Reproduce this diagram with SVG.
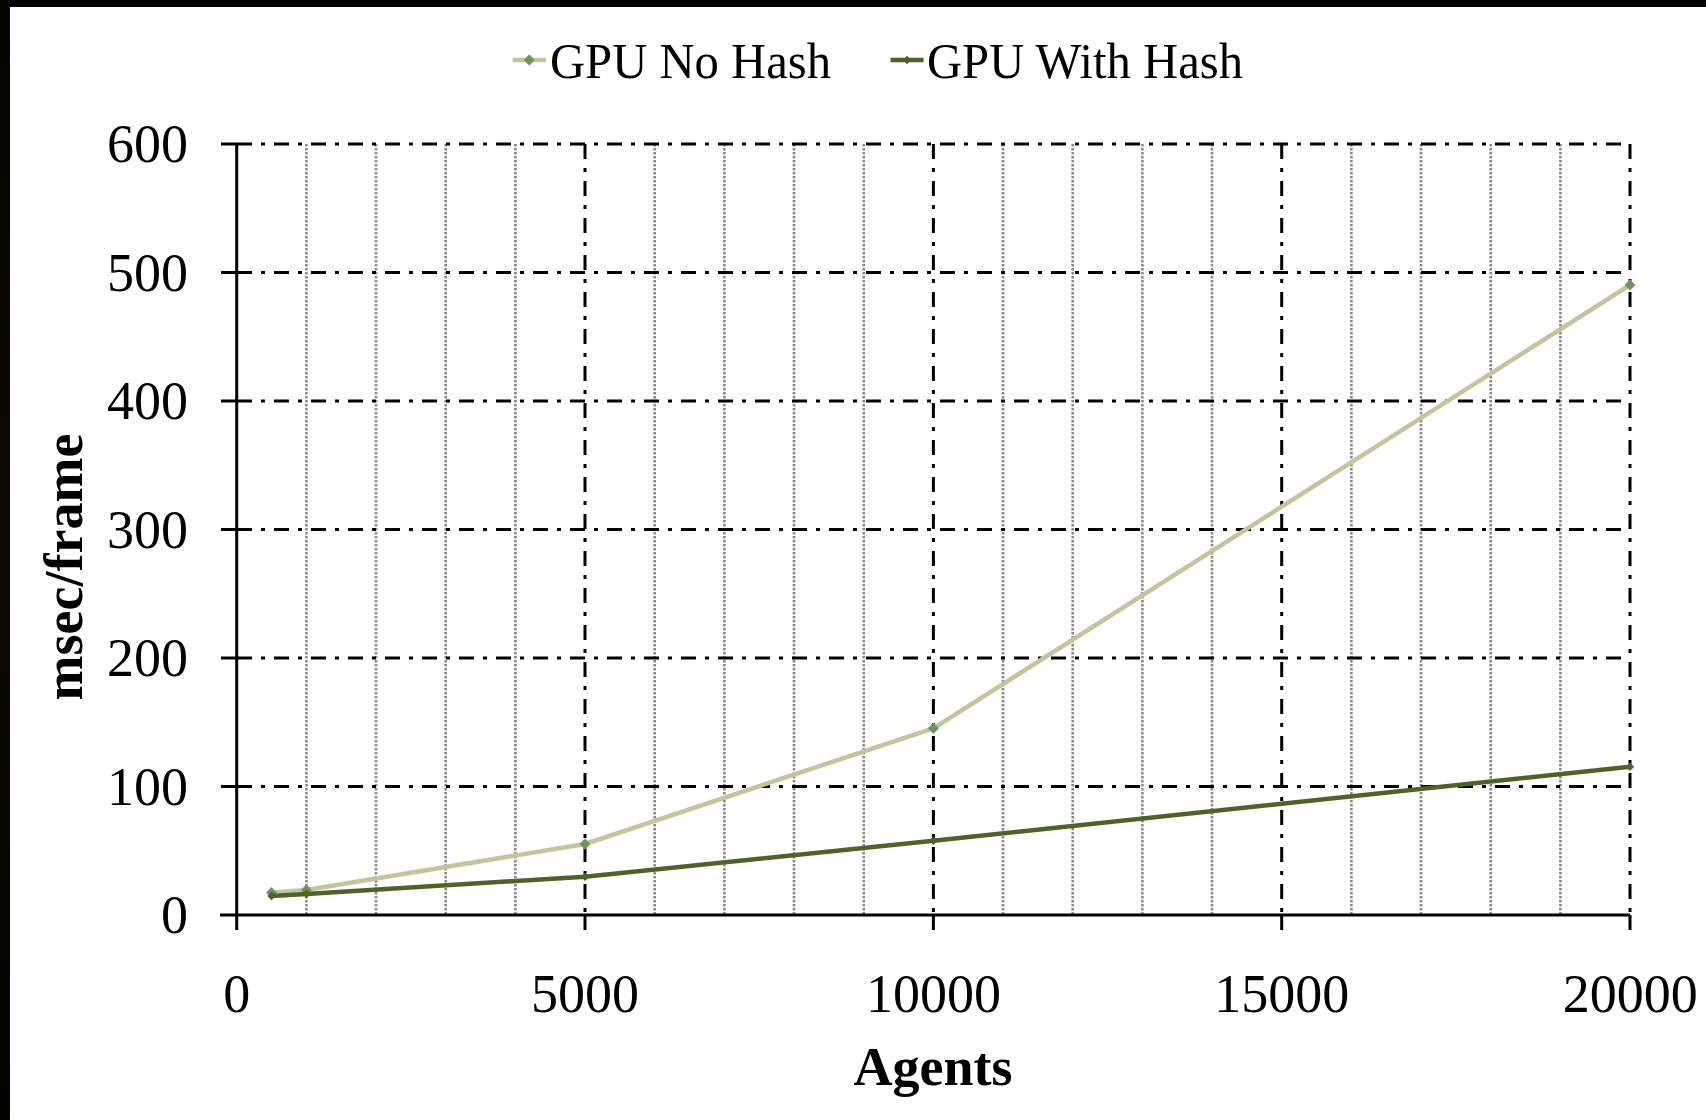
<svg xmlns="http://www.w3.org/2000/svg" width="1706" height="1120" viewBox="0 0 1706 1120">
<style>
  text { font-family: "Liberation Serif", "Times New Roman", serif; fill: #000; }
  .tick { font-size: 54px; }
  .ylab { text-anchor: end; }
  .xlab { text-anchor: middle; }
  .title { font-size: 54px; font-weight: bold; }
  .legend { font-size: 50px; }
  .minor { stroke: #8a8a8a; stroke-width: 2.6; stroke-dasharray: 2.6 1.4; fill: none; }
  .major { stroke: #000; stroke-width: 3; stroke-dasharray: 15 9 4 9; fill: none; }
  .axis { stroke: #000; stroke-width: 3; fill: none; }
  .nohash { stroke: #C4C49E; stroke-width: 4.5; fill: none; stroke-linejoin: round; }
  .withhash { stroke: #4F6228; stroke-width: 4.5; fill: none; stroke-linejoin: round; }
</style>
<defs>
  <marker id="mNo" viewBox="-6 -6 12 12" markerWidth="12" markerHeight="12" markerUnits="userSpaceOnUse" refX="0" refY="0">
    <path d="M0,-5.2 L5.2,0 L0,5.2 L-5.2,0 Z" fill="#77933C" stroke="#6FA0D0" stroke-width="1"/>
  </marker>
  <marker id="mWith" viewBox="-6 -6 12 12" markerWidth="12" markerHeight="12" markerUnits="userSpaceOnUse" refX="0" refY="0">
    <path d="M0,-4.2 L4.2,0 L0,4.2 L-4.2,0 Z" fill="#4F6228"/>
  </marker>
  <linearGradient id="leftband" x1="0" y1="0" x2="0" y2="1">
    <stop offset="0" stop-color="#050400"/>
    <stop offset="0.5" stop-color="#0d0b00"/>
    <stop offset="1" stop-color="#030300"/>
  </linearGradient>
</defs>

<rect x="0" y="0" width="1706" height="1120" fill="#ffffff"/>
<rect x="0" y="0" width="1706" height="7" fill="#000"/>
<rect x="0" y="0" width="10" height="1120" fill="url(#leftband)"/>

<g id="grid-minor">
  <line class="minor" x1="306.4" y1="144" x2="306.4" y2="915"/>
  <line class="minor" x1="376.0" y1="144" x2="376.0" y2="915"/>
  <line class="minor" x1="445.7" y1="144" x2="445.7" y2="915"/>
  <line class="minor" x1="515.4" y1="144" x2="515.4" y2="915"/>
  <line class="minor" x1="654.7" y1="144" x2="654.7" y2="915"/>
  <line class="minor" x1="724.4" y1="144" x2="724.4" y2="915"/>
  <line class="minor" x1="794.0" y1="144" x2="794.0" y2="915"/>
  <line class="minor" x1="863.7" y1="144" x2="863.7" y2="915"/>
  <line class="minor" x1="1003.0" y1="144" x2="1003.0" y2="915"/>
  <line class="minor" x1="1072.7" y1="144" x2="1072.7" y2="915"/>
  <line class="minor" x1="1142.4" y1="144" x2="1142.4" y2="915"/>
  <line class="minor" x1="1212.0" y1="144" x2="1212.0" y2="915"/>
  <line class="minor" x1="1351.4" y1="144" x2="1351.4" y2="915"/>
  <line class="minor" x1="1421.0" y1="144" x2="1421.0" y2="915"/>
  <line class="minor" x1="1490.7" y1="144" x2="1490.7" y2="915"/>
  <line class="minor" x1="1560.4" y1="144" x2="1560.4" y2="915"/>
</g>

<g id="grid-major">
  <line class="major" x1="237" y1="144" x2="1630" y2="144"/>
  <line class="major" x1="237" y1="272.5" x2="1630" y2="272.5"/>
  <line class="major" x1="237" y1="401" x2="1630" y2="401"/>
  <line class="major" x1="237" y1="529.5" x2="1630" y2="529.5"/>
  <line class="major" x1="237" y1="658" x2="1630" y2="658"/>
  <line class="major" x1="237" y1="786.5" x2="1630" y2="786.5"/>
  <line class="major" x1="585" y1="144" x2="585" y2="915"/>
  <line class="major" x1="933.4" y1="144" x2="933.4" y2="915"/>
  <line class="major" x1="1281.7" y1="144" x2="1281.7" y2="915"/>
  <line class="major" x1="1630" y1="144" x2="1630" y2="915"/>
</g>

<g id="axes">
  <line class="axis" x1="236.7" y1="144" x2="236.7" y2="930"/>
  <line class="axis" x1="220" y1="915" x2="1630" y2="915"/>
  <line class="axis" x1="221" y1="144" x2="237" y2="144"/>
  <line class="axis" x1="221" y1="272.5" x2="237" y2="272.5"/>
  <line class="axis" x1="221" y1="401" x2="237" y2="401"/>
  <line class="axis" x1="221" y1="529.5" x2="237" y2="529.5"/>
  <line class="axis" x1="221" y1="658" x2="237" y2="658"/>
  <line class="axis" x1="221" y1="786.5" x2="237" y2="786.5"/>
  <line class="axis" x1="585" y1="915" x2="585" y2="930"/>
  <line class="axis" x1="933.4" y1="915" x2="933.4" y2="930"/>
  <line class="axis" x1="1281.7" y1="915" x2="1281.7" y2="930"/>
  <line class="axis" x1="1630" y1="915" x2="1630" y2="930"/>
</g>

<g id="y-labels" class="tick">
  <text class="tick ylab" x="188" y="162">600</text>
  <text class="tick ylab" x="188" y="290.5">500</text>
  <text class="tick ylab" x="188" y="419">400</text>
  <text class="tick ylab" x="188" y="547.5">300</text>
  <text class="tick ylab" x="188" y="676">200</text>
  <text class="tick ylab" x="188" y="804.5">100</text>
  <text class="tick ylab" x="188" y="933">0</text>
</g>

<g id="x-labels">
  <text class="tick xlab" x="236.7" y="1012">0</text>
  <text class="tick xlab" x="585" y="1012">5000</text>
  <text class="tick xlab" x="933.4" y="1012">10000</text>
  <text class="tick xlab" x="1281.7" y="1012">15000</text>
  <text class="tick xlab" x="1630.3" y="1012">20000</text>
</g>

<g id="axis-titles">
  <text class="title" x="933" y="1085" text-anchor="middle">Agents</text>
  <text class="title" transform="translate(82,567) rotate(-90)" text-anchor="middle">msec/frame</text>
</g>

<g id="series">
  <polyline id="series-nohash" class="nohash" points="271.5,892.6 306.4,890 585,844 933.4,728.3 1630,285" marker-start="url(#mNo)" marker-mid="url(#mNo)" marker-end="url(#mNo)"/>
  <polyline id="series-withhash" class="withhash" points="271.5,896 306.4,894 585,876.7 933.4,840.7 1630,766.7" marker-start="url(#mWith)" marker-mid="url(#mWith)" marker-end="url(#mWith)"/>
</g>

<g id="legend">
  <g id="legend-nohash">
    <line class="nohash" x1="512.7" y1="60" x2="546" y2="60"/>
    <path d="M529.3,54.8 L534.5,60 L529.3,65.2 L524.1,60 Z" fill="#77933C" stroke="#6FA0D0" stroke-width="1"/>
    <text class="legend" x="550" y="78" textLength="281" lengthAdjust="spacingAndGlyphs">GPU No Hash</text>
  </g>
  <g id="legend-withhash">
    <line class="withhash" x1="890.5" y1="60" x2="923.5" y2="60"/>
    <path d="M907,55.8 L911.2,60 L907,64.2 L902.8,60 Z" fill="#4F6228"/>
    <text class="legend" x="927" y="78" textLength="316" lengthAdjust="spacingAndGlyphs">GPU With Hash</text>
  </g>
</g>
</svg>
